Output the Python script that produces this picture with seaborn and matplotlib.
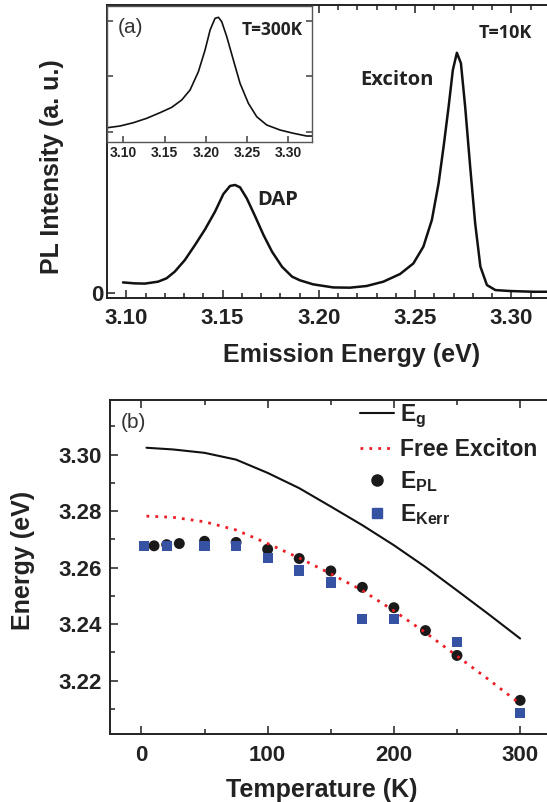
import seaborn as sns
import matplotlib.pyplot as plt
from matplotlib.lines import Line2D
from matplotlib.ticker import MultipleLocator, FixedLocator

# (a) PL spectrum at T=10K, intensity normalised to the exciton peak
energy_10k = [3.0983, 3.1043, 3.1096, 3.1165, 3.1209, 3.1252, 3.1304, 3.1357, 3.1409,
              3.1461, 3.1504, 3.1539, 3.1565, 3.1591, 3.1626, 3.1670, 3.1713, 3.1757,
              3.1809, 3.1861, 3.1901, 3.1970, 3.2075, 3.2161, 3.2248, 3.2335, 3.2422,
              3.2491, 3.2543, 3.2587, 3.2622, 3.2648, 3.2674, 3.2696, 3.2717, 3.2738,
              3.2760, 3.2786, 3.2812, 3.2839, 3.2873, 3.2917, 3.2995, 3.3116, 3.3188]
pl_10k = [0.043, 0.039, 0.038, 0.046, 0.060, 0.088, 0.136, 0.199, 0.264,
          0.338, 0.411, 0.445, 0.449, 0.439, 0.393, 0.317, 0.240, 0.171,
          0.108, 0.067, 0.052, 0.035, 0.022, 0.021, 0.028, 0.046, 0.078,
          0.122, 0.192, 0.303, 0.456, 0.609, 0.775, 0.928, 1.000, 0.956,
          0.775, 0.525, 0.289, 0.109, 0.032, 0.011, 0.007, 0.004, 0.004]

# inset: spectrum at T=300K (arb. units)
energy_300k = [3.0806, 3.0960, 3.1121, 3.1283, 3.1444, 3.1586, 3.1707, 3.1808, 3.1909,
               3.1990, 3.2051, 3.2111, 3.2152, 3.2192, 3.2253, 3.2333, 3.2414, 3.2515,
               3.2616, 3.2737, 3.2899, 3.3061, 3.3222, 3.3283]
pl_300k = [1.077, 1.108, 1.167, 1.246, 1.347, 1.443, 1.575, 1.754, 2.083,
           2.472, 2.831, 3.041, 3.059, 2.980, 2.711, 2.293, 1.874, 1.515,
           1.275, 1.126, 1.036, 0.977, 0.928, 0.928]

# (b) energies vs temperature
temp_curve = [4, 25, 50, 75, 100, 125, 150, 175, 200, 225, 250, 275, 300]
e_gap = [3.3024, 3.3018, 3.3006, 3.2982, 3.2935, 3.2881, 3.2816, 3.2750, 3.2679,
         3.2602, 3.2519, 3.2435, 3.2349]
e_free_exciton = [3.2782, 3.2778, 3.2762, 3.2733, 3.2685, 3.2634, 3.2578, 3.2519,
                  3.2447, 3.2370, 3.2287, 3.2204, 3.2118]
temp_pl = [10, 20, 30, 50, 75, 100, 125, 150, 175, 200, 225, 250, 300]
e_pl = [3.2677, 3.2681, 3.2685, 3.2693, 3.2689, 3.2665, 3.2632, 3.2588, 3.2530,
        3.2458, 3.2377, 3.2289, 3.2130]
temp_kerr = [2, 20, 50, 75, 100, 125, 150, 175, 200, 250, 300]
e_kerr = [3.2676, 3.2676, 3.2676, 3.2676, 3.2634, 3.2590, 3.2547, 3.2419, 3.2419,
          3.2337, 3.2085]

sns.set_theme(style="ticks")
plt.rcParams["font.family"] = ["Liberation Sans", "DejaVu Sans"]
plt.rcParams["font.weight"] = "bold"
plt.rcParams["axes.labelweight"] = "bold"
plt.rcParams["mathtext.fontset"] = "custom"
plt.rcParams["mathtext.rm"] = "Liberation Sans:bold"
plt.rcParams["mathtext.bf"] = "Liberation Sans:bold"

INK = "#222222"
W, H = 547, 802


def frac_box(left, top, right, bottom):
    return [left / W, 1 - bottom / H, (right - left) / W, (bottom - top) / H]


def style_axes(ax, lw=1.4, color=INK):
    for side in ["left", "bottom", "top"]:
        ax.spines[side].set_linewidth(lw)
        ax.spines[side].set_color(color)
    ax.spines["right"].set_visible(False)
    ax.tick_params(which="both", direction="in", top=True, right=False, color=color,
                   width=lw * 0.8, labelcolor=INK)
    ax.tick_params(which="major", length=6)
    ax.tick_params(which="minor", length=3.5)


fig = plt.figure(figsize=(W / 100, H / 100), dpi=100)

# ---------------- panel (a) ----------------
ax_a = fig.add_axes(frac_box(107.4, 5, 547, 298))
sns.lineplot(x=energy_10k, y=pl_10k, ax=ax_a, sort=False, estimator=None,
             color="#111111", lw=1.8)
ax_a.set_xlim(3.0902, 3.3185)
ax_a.set_ylim(-0.022, 1.199)
style_axes(ax_a)
ax_a.xaxis.set_major_locator(MultipleLocator(0.05))
ax_a.xaxis.set_minor_locator(MultipleLocator(0.01))
ax_a.yaxis.set_major_locator(FixedLocator([0]))
ax_a.set_yticklabels(["0"])
ax_a.set_xticks([3.10, 3.15, 3.20, 3.25, 3.30])
ax_a.set_xticklabels(["3.10", "3.15", "3.20", "3.25", "3.30"])
ax_a.tick_params(axis="x", labelsize=16, pad=7)
ax_a.tick_params(axis="y", labelsize=16, pad=3)
ax_a.set_xlabel("Emission Energy (eV)", fontsize=18, fontweight="bold", color=INK,
                va="center")
ax_a.set_ylabel("PL Intensity (a. u.)", fontsize=18, fontweight="bold", color=INK,
                va="center")
ax_a.xaxis.set_label_coords(0.556, -0.195)
ax_a.yaxis.set_label_coords(-0.126, 0.45)

ann = dict(family=["Open Sans", "DejaVu Sans"], weight="bold", color=INK,
           ha="center", va="center")
ax_a.text(3.2404, 0.885, "Exciton", fontsize=14.5, **ann)
ax_a.text(3.2971, 1.083, "T=10K", fontsize=13, **ann)
ax_a.text(3.1784, 0.386, "DAP", fontsize=14.5, **ann)

# inset (T=300K)
ax_in = fig.add_axes(frac_box(107.4, 6, 312.3, 141.7))
ax_in.set_facecolor("white")
sns.lineplot(x=energy_300k, y=pl_300k, ax=ax_in, sort=False, estimator=None,
             color="#111111", lw=1.2)
ax_in.set_xlim(3.0806, 3.329)
ax_in.set_ylim(0.826, 3.262)
for side in ["left", "bottom", "top", "right"]:
    ax_in.spines[side].set_linewidth(1.0)
    ax_in.spines[side].set_color("#555555")
ax_in.tick_params(which="both", direction="in", top=False, right=True, color="#555555",
                  labelsize=10, pad=3, labelcolor=INK)
ax_in.tick_params(which="major", length=4)
ax_in.set_xticks([3.10, 3.15, 3.20, 3.25, 3.30])
ax_in.set_xticklabels(["3.10", "3.15", "3.20", "3.25", "3.30"])
ax_in.yaxis.set_major_locator(FixedLocator([1, 2, 3]))
ax_in.set_yticklabels([])
ax_in.text(0.805, 0.821, "T=300K", transform=ax_in.transAxes, fontsize=12.5, **ann)
ax_in.text(0.111, 0.843, "(a)", transform=ax_in.transAxes, fontsize=15,
           weight="normal", color="#333333", ha="center", va="center")

# ---------------- panel (b) ----------------
ax_b = fig.add_axes(frac_box(110, 400, 547, 734))
sns.lineplot(x=temp_curve, y=e_gap, ax=ax_b, sort=False, estimator=None,
             color="#111111", lw=1.5, zorder=3)
sns.scatterplot(x=temp_pl, y=e_pl, ax=ax_b, marker="o", s=62, color="#1a1a1a",
                edgecolor="none", zorder=4)
sns.scatterplot(x=temp_kerr, y=e_kerr, ax=ax_b, marker="s", s=55, color="#3552a3",
                edgecolor="none", zorder=5)
sns.lineplot(x=temp_curve, y=e_free_exciton, ax=ax_b, sort=False, estimator=None,
             color="#ee1c25", lw=2.0, linestyle=(0, (1.0, 2.2)), zorder=6)
ax_b.set_xlim(-24.9, 321.3)
ax_b.set_ylim(3.2011, 3.3193)
style_axes(ax_b)
ax_b.xaxis.set_major_locator(MultipleLocator(100))
ax_b.xaxis.set_minor_locator(MultipleLocator(50))
ax_b.yaxis.set_major_locator(MultipleLocator(0.02))
ax_b.yaxis.set_minor_locator(MultipleLocator(0.01))
ax_b.yaxis.set_major_formatter(plt.FormatStrFormatter("%.2f"))
ax_b.tick_params(axis="x", labelsize=16, pad=8)
ax_b.tick_params(axis="y", labelsize=16, pad=6)
ax_b.set_xlabel("Temperature (K)", fontsize=18, fontweight="bold", color=INK,
                va="center")
ax_b.set_ylabel("Energy (eV)", fontsize=18, fontweight="bold", color=INK, va="center")
ax_b.xaxis.set_label_coords(0.4844, -0.168)
ax_b.yaxis.set_label_coords(-0.198, 0.521)
ax_b.text(-6.4, 3.3113, "(b)", fontsize=15, weight="normal", color="#333333",
          ha="center", va="center")

handles = [
    Line2D([], [], color="#111111", lw=1.5),
    Line2D([], [], color="#ee1c25", lw=2.0, linestyle=(0, (1.0, 2.2))),
    Line2D([], [], color="#1a1a1a", marker="o", ms=8, lw=0),
    Line2D([], [], color="#3552a3", marker="s", ms=7.5, lw=0),
]
labels = [r"E$_{\mathrm{g}}$", "Free Exciton", r"E$_{\mathrm{PL}}$", r"E$_{\mathrm{Kerr}}$"]
leg = ax_b.legend(handles, labels, loc="upper left", bbox_to_anchor=(360 / W, 1 - 403 / H),
                  bbox_transform=fig.transFigure, frameon=False, fontsize=16.5,
                  handlelength=1.5, handletextpad=0.25, labelspacing=0.35,
                  borderpad=0, borderaxespad=0)
for t in leg.get_texts():
    t.set_color(INK)

fig.savefig("out.png", dpi=100)
